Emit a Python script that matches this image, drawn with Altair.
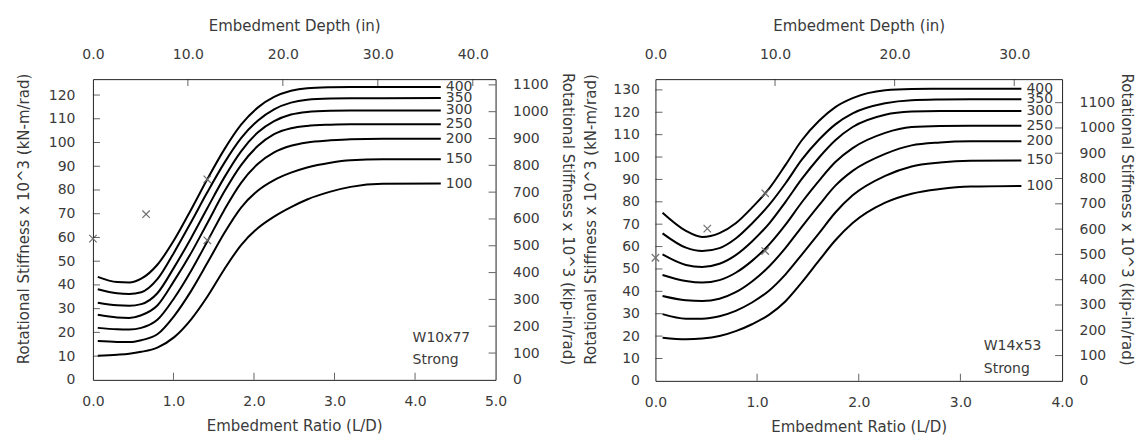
import altair as alt
import pandas as pd

series = [400, 350, 300, 250, 200, 150, 100]

# ---------- Left panel: W10x77 Strong ----------
left_x = [0.06, 0.3, 0.45, 0.6, 0.8, 1.01, 1.22, 1.42, 1.63, 1.84, 2.05, 2.25, 2.46, 2.66, 2.95, 3.2, 3.6, 4.32]
left_400 = [43.4, 41.2, 41.0, 42.6, 48.5, 59.0, 71.8, 84.5, 97.0, 107.5, 114.8, 119.2, 121.8, 122.9, 123.3, 123.4, 123.4, 123.4]
left_350 = [38.2, 36.5, 36.2, 36.9, 42.4, 53.8, 66.5, 79.0, 91.3, 101.8, 109.3, 114.0, 116.8, 118.0, 118.5, 118.6, 118.6, 118.8]
left_300 = [32.5, 31.4, 31.2, 31.9, 36.5, 47.5, 59.8, 72.3, 85.2, 96.3, 104.3, 109.0, 111.8, 112.9, 113.4, 113.5, 113.5, 113.5]
left_250 = [27.4, 26.3, 26.1, 27.2, 31.3, 41.8, 53.5, 66.0, 79.2, 90.5, 98.6, 103.5, 106.0, 107.0, 107.5, 107.7, 107.7, 107.7]
left_200 = [21.9, 21.3, 21.2, 21.9, 25.3, 34.5, 46.0, 58.3, 71.5, 83.0, 91.0, 95.8, 98.6, 100.0, 100.9, 101.4, 101.6, 101.6]
left_150 = [16.4, 16.0, 15.9, 16.7, 19.2, 27.0, 37.5, 49.2, 61.8, 72.6, 79.8, 84.2, 87.3, 89.5, 91.5, 92.5, 92.9, 92.9]
left_100 = [10.2, 10.6, 11.0, 11.8, 13.6, 18.0, 25.5, 35.0, 46.5, 56.8, 64.0, 68.8, 72.8, 76.0, 79.3, 81.3, 82.6, 82.7]
left_mark_x = [0.0, 0.66, 1.42, 1.42]
left_mark_y = [59.5, 69.8, 84.5, 58.8]
left_note = ["W10x77", "Strong"]
left_note_x = [3.97, 3.97]
left_note_y = [17.6, 8.4]

# ---------- Right panel: W14x53 Strong ----------
right_x = [0.07, 0.3, 0.46, 0.63, 0.79, 0.95, 1.12, 1.28, 1.44, 1.61, 1.77, 1.94, 2.26, 2.52, 2.8, 3.1, 3.6]
right_400 = [75.1, 67.0, 64.3, 66.0, 70.4, 77.4, 86.0, 96.5, 107.5, 116.2, 122.3, 126.3, 129.8, 130.4, 130.5, 130.5, 130.5]
right_350 = [65.9, 59.5, 58.0, 59.3, 63.6, 70.3, 78.7, 88.3, 98.8, 107.8, 114.6, 119.5, 124.0, 125.4, 125.7, 125.8, 125.8]
right_300 = [56.5, 51.8, 50.9, 52.3, 56.2, 62.3, 70.4, 80.0, 90.2, 99.8, 107.5, 113.4, 118.9, 120.3, 120.6, 120.6, 120.6]
right_250 = [47.3, 44.6, 43.9, 45.0, 48.3, 53.6, 61.0, 69.8, 79.8, 89.5, 97.8, 104.0, 110.8, 113.4, 113.9, 114.0, 114.0]
right_200 = [37.9, 36.0, 35.7, 36.7, 39.6, 44.4, 51.2, 59.4, 68.8, 78.5, 87.2, 93.8, 101.4, 105.2, 106.5, 107.0, 107.1]
right_150 = [29.8, 27.8, 27.8, 28.9, 31.3, 35.0, 40.4, 47.6, 56.4, 66.0, 75.2, 82.9, 91.6, 95.8, 97.5, 98.3, 98.5]
right_100 = [19.3, 18.6, 18.9, 20.0, 22.2, 25.3, 29.6, 35.6, 44.0, 53.8, 62.8, 70.5, 79.6, 83.6, 85.7, 86.8, 87.1]
right_mark_x = [0.0, 0.51, 1.08, 1.08]
right_mark_y = [55.0, 68.0, 83.8, 58.0]
right_note = ["W14x53", "Strong"]
right_note_x = [3.23, 3.23]
right_note_y = [15.6, 5.2]

FONT = "DejaVu Sans"
TXT = "#3a3a3a"


def panel(xs, curves, mark_x, mark_y, note, note_x, note_y,
          x_max, y_max, inch_max, kip_max, x_ticks, y_ticks, inch_ticks, kip_ticks, w, h,
          lpad_left, tpad_left, lpad_right, tpad_right):
    rows = []
    for s, vals in zip(series, curves):
        for x, v in zip(xs, vals):
            rows.append({"s": s, "r": x, "v": v})
    df = pd.DataFrame(rows)
    lab = pd.DataFrame({"s": [str(s) for s in series], "r": [xs[-1]] * len(series),
                        "v": [c[-1] for c in curves]})
    mk = pd.DataFrame({"r": mark_x, "v": mark_y})
    nt = pd.DataFrame({"t": note, "r": note_x, "v": note_y})
    lt = pd.DataFrame({"r": [0.0] * (len(y_ticks) - 1), "v": y_ticks[1:]})
    bt = pd.DataFrame({"r": x_ticks[1:-1], "v": [0.0] * (len(x_ticks) - 2)})
    tt = pd.DataFrame({"inch": inch_ticks[1:], "kip": [kip_max] * (len(inch_ticks) - 1)})
    rt = pd.DataFrame({"inch": [inch_max] * (len(kip_ticks) - 1), "kip": kip_ticks[1:]})

    title_y = h / 2 - 11
    X = alt.X("r:Q", scale=alt.Scale(domain=[0, x_max], nice=False, zero=True),
              axis=alt.Axis(title="Embedment Ratio (L/D)", values=x_ticks, format=".1f",
                            labelPadding=15, titlePadding=10))
    Y = alt.Y("v:Q", scale=alt.Scale(domain=[0, y_max], nice=False, zero=True),
              axis=alt.Axis(title="Rotational Stiffness x 10^3 (kN-m/rad)", values=y_ticks,
                            format="d", labelPadding=lpad_left, titlePadding=tpad_left,
                            titleY=title_y))
    XT = alt.X("inch:Q", scale=alt.Scale(domain=[0, inch_max], nice=False, zero=True),
               axis=alt.Axis(title="Embedment Depth (in)", orient="top", values=inch_ticks,
                             format=".1f", labelPadding=18, titlePadding=14))
    YR = alt.Y("kip:Q", scale=alt.Scale(domain=[0, kip_max], nice=False, zero=True),
               axis=alt.Axis(title="Rotational Stiffness x 10^3 (kip-in/rad)", orient="right",
                             values=kip_ticks, format="d", labelPadding=lpad_right,
                             titlePadding=tpad_right, titleY=title_y))

    lines = alt.Chart(df).mark_line(color="black", strokeWidth=2, interpolate="monotone").encode(
        x=X, y=Y, detail="s:N")
    marks = alt.Chart(mk).mark_point(shape="M-1,-1L1,1M1,-1L-1,1", size=55, color="#707070",
                                     filled=False, strokeWidth=1.2, opacity=1).encode(x=X, y=Y)
    labels = alt.Chart(lab).mark_text(align="left", baseline="middle", dx=5, font=FONT,
                                      fontSize=14, color=TXT).encode(x=X, y=Y, text="s:N")
    notes = alt.Chart(nt).mark_text(align="left", baseline="middle", font=FONT, fontSize=14,
                                    color=TXT).encode(x=X, y=Y, text="t:N")
    lticks = alt.Chart(lt).mark_tick(orient="horizontal", size=7, thickness=1, xOffset=3.5,
                                     color="#222").encode(x=X, y=Y)
    bticks = alt.Chart(bt).mark_tick(orient="vertical", size=7, thickness=1, yOffset=-3.5,
                                     color="#222").encode(x=X, y=Y)
    tticks = alt.Chart(tt).mark_tick(orient="vertical", size=7, thickness=1, yOffset=3.5,
                                     color="#222").encode(x=XT, y=YR)
    rticks = alt.Chart(rt).mark_tick(orient="horizontal", size=7, thickness=1, xOffset=-3.5,
                                     color="#222").encode(x=XT, y=YR)

    base = alt.layer(lines, marks, labels, notes, lticks, bticks)
    sec = alt.layer(tticks, rticks)
    return alt.layer(base, sec).resolve_scale(x="independent", y="independent").properties(
        width=w, height=h)


left = panel(left_x, [left_400, left_350, left_300, left_250, left_200, left_150, left_100],
             left_mark_x, left_mark_y, left_note, left_note_x, left_note_y,
             5.0, 126.7, 42.4, 1121.4,
             [0, 1, 2, 3, 4, 5], list(range(0, 130, 10)), [0, 10, 20, 30, 40],
             list(range(0, 1200, 100)), 403, 301, 18, 17, 17, 11)

right = panel(right_x, [right_400, right_350, right_300, right_250, right_200, right_150, right_100],
              right_mark_x, right_mark_y, right_note, right_note_x, right_note_y,
              4.0, 134.8, 34.0, 1193.0,
              [0, 1, 2, 3, 4], list(range(0, 140, 10)), [0, 10, 20, 30],
              list(range(0, 1200, 100)), 407, 302, 16, 14, 17, 4)

chart = alt.hconcat(left, right, spacing=7).properties(
    padding={"left": 7, "top": 9, "right": 0, "bottom": 0}
).configure_view(stroke="#222", strokeWidth=1).configure_axis(
    domain=False, ticks=False, tickSize=0, grid=False, labelFlush=False, labelOverlap=False,
    labelFont=FONT, labelFontSize=14, labelColor=TXT,
    titleFont=FONT, titleFontSize=15, titleFontWeight="normal", titleColor=TXT
)

chart.save("out.html", embed_options={"renderer": "svg", "actions": False})
